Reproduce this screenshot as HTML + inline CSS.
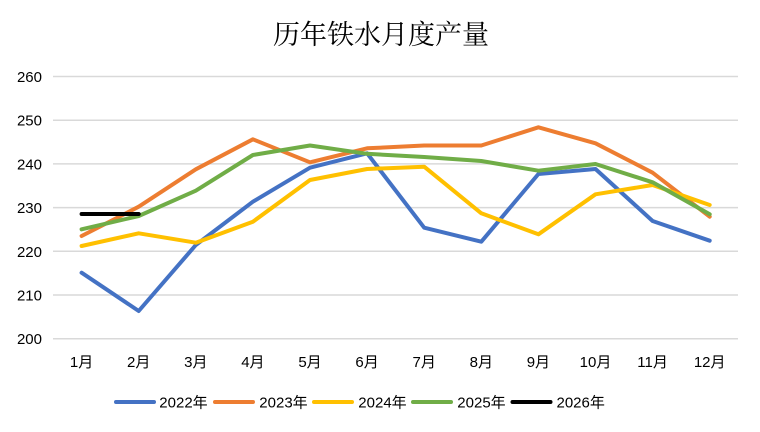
<!DOCTYPE html>
<html><head><meta charset="utf-8"><style>
html,body{margin:0;padding:0;background:#fff;}
svg{display:block;}
text{font-family:"Liberation Sans","Noto Sans CJK SC",sans-serif;fill:#000;}
</style></head><body>
<svg width="760" height="432" viewBox="0 0 760 432" xmlns="http://www.w3.org/2000/svg">
<rect width="760" height="432" fill="#fff"/>
<text x="381" y="44" font-size="27" text-anchor="middle" style="font-family:'Noto Serif CJK SC','Noto Sans CJK SC',serif">历年铁水月度产量</text>
<g stroke="#d9d9d9" stroke-width="1.5">
<line x1="53" x2="738" y1="76.5" y2="76.5"/>
<line x1="53" x2="738" y1="120.2" y2="120.2"/>
<line x1="53" x2="738" y1="163.9" y2="163.9"/>
<line x1="53" x2="738" y1="207.6" y2="207.6"/>
<line x1="53" x2="738" y1="251.3" y2="251.3"/>
<line x1="53" x2="738" y1="295" y2="295"/>
<line x1="53" x2="738" y1="338.7" y2="338.7"/>
</g>
<g font-size="15" text-anchor="end">
<text x="42" y="82">260</text>
<text x="42" y="125.7">250</text>
<text x="42" y="169.4">240</text>
<text x="42" y="213.1">230</text>
<text x="42" y="256.8">220</text>
<text x="42" y="300.5">210</text>
<text x="42" y="344.2">200</text>
</g>
<g font-size="15" text-anchor="middle">
<text x="81.6" y="367">1月</text>
<text x="138.7" y="367">2月</text>
<text x="195.8" y="367">3月</text>
<text x="252.9" y="367">4月</text>
<text x="310" y="367">5月</text>
<text x="367.1" y="367">6月</text>
<text x="424.2" y="367">7月</text>
<text x="481.3" y="367">8月</text>
<text x="538.4" y="367">9月</text>
<text x="595.5" y="367">10月</text>
<text x="652.6" y="367">11月</text>
<text x="709.7" y="367">12月</text>
</g>
<g fill="none" stroke-width="4" stroke-linecap="round" stroke-linejoin="round">
<polyline stroke="#4472C4" points="81.6,272.7 138.7,311 195.8,245 252.9,201.7 310,167.7 367.1,153.3 424.2,227.7 481.3,241.7 538.4,174 595.5,169 652.6,221 709.7,240.7"/>
<polyline stroke="#ED7D31" points="81.6,236 138.7,206.7 195.8,169.3 252.9,139.3 310,162.3 367.1,148.3 424.2,145.5 481.3,145.5 538.4,127.3 595.5,143.3 652.6,172.7 709.7,216.7"/>
<polyline stroke="#FFC000" points="81.6,246 138.7,233.3 195.8,242.7 252.9,221.7 310,180 367.1,169 424.2,166.7 481.3,213.3 538.4,234.3 595.5,194.3 652.6,185 709.7,205"/>
<polyline stroke="#70AD47" points="81.6,229.3 138.7,216 195.8,190.7 252.9,155 310,145.5 367.1,153.8 424.2,157 481.3,161 538.4,170.7 595.5,164 652.6,182.3 709.7,214.3"/>
<polyline stroke="#000000" points="81.6,214 138.7,214"/>
</g>
<g stroke-width="4" stroke-linecap="round">
<line x1="116" x2="154" y1="402" y2="402" stroke="#4472C4"/>
<line x1="215" x2="253" y1="402" y2="402" stroke="#ED7D31"/>
<line x1="314" x2="352" y1="402" y2="402" stroke="#FFC000"/>
<line x1="413" x2="451" y1="402" y2="402" stroke="#70AD47"/>
<line x1="512.5" x2="550.5" y1="402" y2="402" stroke="#000000"/>
</g>
<g font-size="15">
<text x="159.3" y="407.5">2022年</text>
<text x="259.3" y="407.5">2023年</text>
<text x="358.3" y="407.5">2024年</text>
<text x="457.3" y="407.5">2025年</text>
<text x="556.5" y="407.5">2026年</text>
</g>
</svg>
</body></html>
